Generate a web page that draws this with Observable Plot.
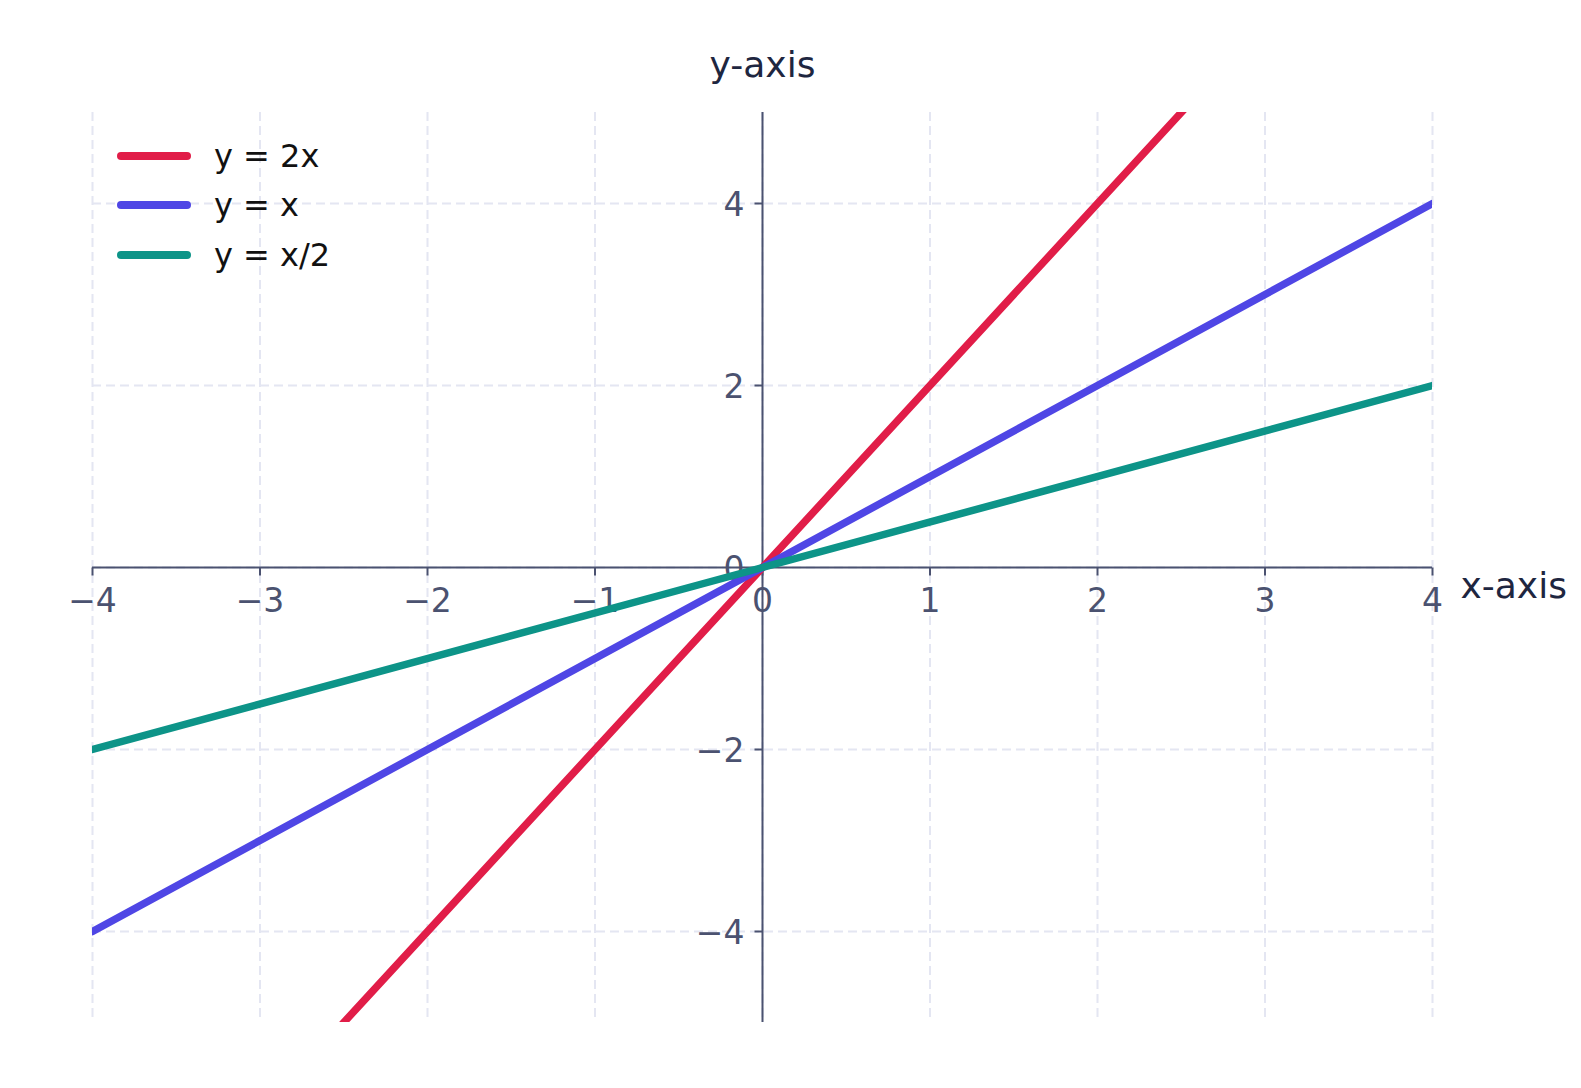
<!DOCTYPE html>
<html><head><meta charset="utf-8">
<script src="https://cdn.jsdelivr.net/npm/d3@7"></script>
<script src="https://cdn.jsdelivr.net/npm/@observablehq/plot@0.6"></script>
<style>
html,body{margin:0;padding:0;background:#fff;overflow:hidden;}
#wrap{position:relative;width:1581px;height:1088px;overflow:hidden;}
#wrap svg{display:block;max-width:none;}
#legend{position:absolute;left:117px;top:131px;font-family:"DejaVu Sans";font-size:32px;color:#111;}
.row{display:flex;align-items:center;height:49.6px;line-height:32px;}
.sw{width:74px;height:8px;border-radius:4px;margin-right:23px;}
</style></head><body>
<div id="wrap"><div id="legend"></div></div>
<script>
const xValues = [-4, 0, 4];
const yDouble = [-8, 0, 8];
const yIdentity = [-4, 0, 4];
const yHalf = [-2, 0, 2];
const seriesNames = ["y = 2x", "y = x", "y = x/2"];
const seriesColors = ["#e11d48", "#4f46e5", "#0d9488"];
const xTicks = [-4, -3, -2, -1, 0, 1, 2, 3, 4];
const xTickLabels = ["−4", "−3", "−2", "−1", "0", "1", "2", "3", "4"];
const yTicks = [-4, -2, 0, 2, 4];
const yTickLabels = ["−4", "−2", "0", "2", "4"];
const xDomain = [-4, 4];
const yDomain = [-5, 5];
const xTitle = "x-axis";
const yTitle = "y-axis";

const seriesValues = [yDouble, yIdentity, yHalf];
const rows = [];
seriesNames.forEach((name, s) => xValues.forEach((x, i) => rows.push({series: name, x, y: seriesValues[s][i]})));

const axisColor = "#4b5270";
const tickColor = "#4b5270";
const titleColor = "#1e2640";
const gridColor = "#e4e6f2";

const tickDown = {draw(ctx) { ctx.moveTo(0, 0); ctx.lineTo(0, 8); }};
const tickLeft = {draw(ctx) { ctx.moveTo(0, 0); ctx.lineTo(-8, 0); }};

const chart = Plot.plot({
  width: 1581,
  height: 1088,
  marginLeft: 92,
  marginRight: 149,
  marginTop: 112,
  marginBottom: 66,
  x: {domain: xDomain, axis: null},
  y: {domain: yDomain, axis: null},
  color: {domain: seriesNames, range: seriesColors},
  style: {fontFamily: "DejaVu Sans", background: "white", overflow: "visible", display: "block", maxWidth: "none"},
  marks: [
    Plot.ruleX(xTicks, {x: d => d, stroke: gridColor, strokeWidth: 2, strokeDasharray: "9,5"}),
    Plot.ruleY(yTicks, {y: d => d, stroke: gridColor, strokeWidth: 2, strokeDasharray: "9,5"}),
    Plot.ruleY([0], {y: d => d, stroke: axisColor, strokeWidth: 2}),
    Plot.ruleX([0], {x: d => d, stroke: axisColor, strokeWidth: 2}),
    Plot.dot(xTicks, {x: d => d, y: () => 0, symbol: tickDown, stroke: axisColor, fill: "none", strokeWidth: 2}),
    Plot.dot(yTicks, {x: () => 0, y: d => d, symbol: tickLeft, stroke: axisColor, fill: "none", strokeWidth: 2}),
    Plot.text(xTicks, {x: d => d, y: () => 0, text: (d, i) => xTickLabels[i], dy: 34, fontSize: 33, fill: tickColor}),
    Plot.text(yTicks, {x: () => 0, y: d => d, text: (d, i) => yTickLabels[i], dx: -18, dy: 2, textAnchor: "end", fontSize: 33, fill: tickColor}),
    Plot.line(rows, {x: "x", y: "y", z: "series", stroke: "series", strokeWidth: 7.5, clip: true}),
    Plot.text([xTitle], {x: () => xDomain[1], y: () => 0, text: d => d, dx: 28, dy: 19, textAnchor: "start", fontSize: 36, fill: titleColor}),
    Plot.text([yTitle], {x: () => 0, y: () => yDomain[1], text: d => d, dy: -47, fontSize: 36, fill: titleColor})
  ]
});
document.getElementById("wrap").prepend(chart);

const legend = d3.select("#legend");
seriesNames.forEach((name, i) => {
  const row = legend.append("div").attr("class", "row");
  row.append("span").attr("class", "sw").style("background", seriesColors[i]);
  row.append("span").text(name);
});
</script>
</body></html>
